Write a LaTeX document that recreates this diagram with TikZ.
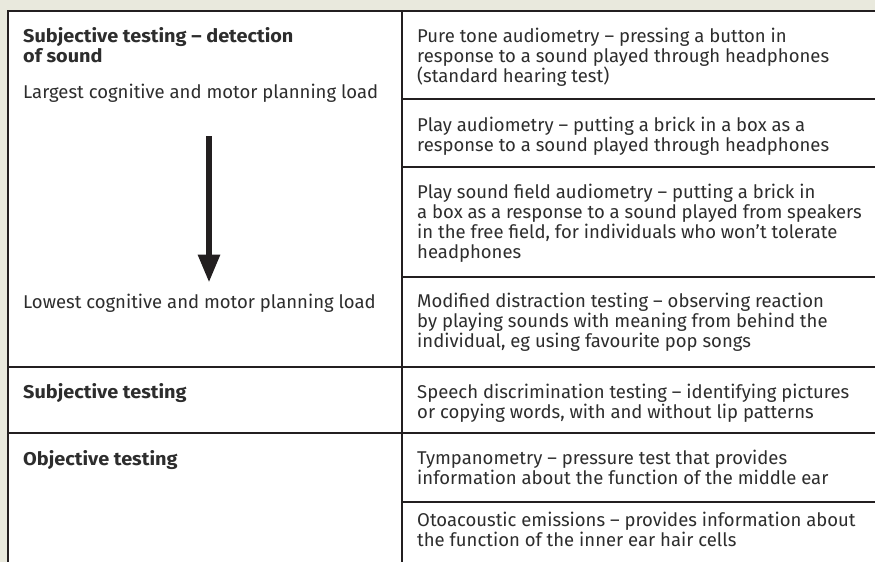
\documentclass[tikz,border=0pt]{standalone}
\usepackage{fontspec}
\setmainfont{Fira Sans}[BoldFeatures={FakeStretch=1.075}]
\usetikzlibrary{arrows.meta}
\definecolor{bgbeige}{RGB}{233,233,221}
\definecolor{rulec}{RGB}{35,31,32}
\definecolor{txtc}{RGB}{45,45,45}
\tikzset{
  rule/.style={draw=rulec, line width=2pt},
  cell/.style={anchor=base west, inner sep=0pt, align=left, text=txtc,
    font=\fontsize{18.5}{20}\selectfont},
  head/.style={cell, font=\fontsize{18.5}{20}\selectfont\bfseries},
  loadarrow/.style={draw=rulec, line width=6pt, -{Triangle[width=21pt,length=28pt]}}
}
\begin{document}
\begin{tikzpicture}[x=1pt,y=-1pt]
\useasboundingbox (0,0) rectangle (875,562);
\fill[bgbeige] (0,0) rectangle (875,562);
\fill[white] (8,11) rectangle (875,562);
% rules
\draw[rule] (875,11) -- (8,11) -- (8,562);
\draw[rule] (402,11) -- (402,562);
\draw[rule] (402,98.5) -- (875,98.5);
\draw[rule] (402,166.5) -- (875,166.5);
\draw[rule] (402,276.7) -- (875,276.7);
\draw[rule] (8,366.5) -- (875,366.5);
\draw[rule] (8,433) -- (875,433);
\draw[rule] (402,502) -- (875,502);
% left column (anchors on the last line's baseline)
\node[head] (h1) at (23,62) {Subjective testing – detection\\of sound};
\node[cell] (l1) at (23,98) {Largest cognitive and motor planning load};
\node[cell] (l2) at (23,308) {Lowest cognitive and motor planning load};
\node[head] (h2) at (23,398) {Subjective testing};
\node[head] (h3) at (23,465) {Objective testing};
% arrow
\coordinate (atop) at (209,136);
\coordinate (atip) at (209,282.5);
\draw[loadarrow] (atop) -- (atip);
% right column
\node[cell] (r1) at (417,82) {Pure tone audiometry – pressing a button in\\response to a sound played through headphones\\(standard hearing test)};
\node[cell] (r2) at (417,151) {Play audiometry – putting a brick in a box as a\\response to a sound played through headphones};
\node[cell] (r3) at (417,258) {Play sound field audiometry – putting a brick in\\a box as a response to a sound played from speakers\\in the free field, for individuals who won’t tolerate\\headphones};
\node[cell] (r4) at (417,347.3) {Modified distraction testing – observing reaction\\by playing sounds with meaning from behind the\\individual, eg using favourite pop songs};
\node[cell] (r5) at (417,418) {Speech discrimination testing – identifying pictures\\or copying words, with and without lip patterns};
\node[cell] (r6) at (417,484) {Tympanometry – pressure test that provides\\information about the function of the middle ear};
\node[cell] (r7) at (417,546) {Otoacoustic emissions – provides information about\\the function of the inner ear hair cells};
\end{tikzpicture}
\end{document}
